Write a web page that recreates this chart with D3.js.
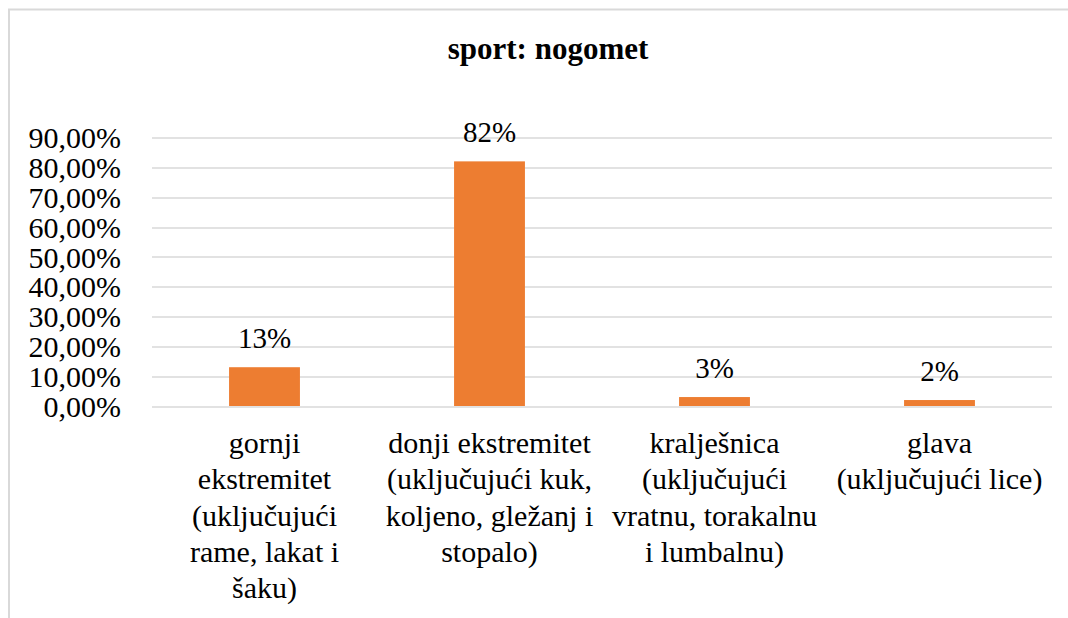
<!DOCTYPE html>
<html>
<head>
<meta charset="utf-8">
<script src="https://cdn.jsdelivr.net/npm/d3@7"></script>
</head>
<body style="margin:0;background:#fff">
<svg id="chart" width="1068" height="618" style="display:block"></svg>
<script>
// data
const categories = ['gornji', 'donji', 'kralje', 'glava']
const categoryLines = [
  ['gornji', 'ekstremitet', '(uključujući', 'rame, lakat i', 'šaku)'],
  ['donji ekstremitet', '(uključujući kuk,', 'koljeno, gležanj i', 'stopalo)'],
  ['kralješnica', '(uključujući', 'vratnu, torakalnu', 'i lumbalnu)'],
  ['glava', '(uključujući lice)']
]
const values = [0.13, 0.82, 0.03, 0.02]
const valueLabels = ['13%', '82%', '3%', '2%']
const yTicks = [0, 0.1, 0.2, 0.3, 0.4, 0.5, 0.6, 0.7, 0.8, 0.9]

const FONT = '"Liberation Serif", Tinos, "Times New Roman", FreeSerif, serif'
const W = 1068, H = 618
const margin = { top: 137.5, right: 16, bottom: 212, left: 152 }
const width = W - margin.left - margin.right
const height = H - margin.top - margin.bottom

const render = () => {
  const svg = d3.select('#chart')
  svg.selectAll('*').remove()

  // outer frame (runs off the right and bottom)
  svg.append('rect')
    .attr('x', 9).attr('y', 9.5)
    .attr('width', W + 20).attr('height', H + 20)
    .attr('fill', '#fff')
    .attr('stroke', '#d9d9d9')
    .attr('stroke-width', 2)

  svg.append('text')
    .attr('x', 548)
    .attr('y', 59)
    .attr('text-anchor', 'middle')
    .style('font-family', FONT)
    .style('font-size', '31px')
    .style('font-weight', 'bold')
    .text('sport: nogomet')

  const g = svg.append('g')
    .attr('transform', `translate(${margin.left},${margin.top})`)

  const x = d3.scaleBand()
    .domain(categories)
    .range([0, width])
    .paddingInner(0.685)
    .paddingOuter(0.3425)

  const y = d3.scaleLinear()
    .domain([0, 0.9])
    .range([height, 0])

  // gridlines
  g.append('g')
    .selectAll('line')
    .data(yTicks)
    .enter()
    .append('line')
    .attr('x1', 0)
    .attr('x2', width)
    .attr('y1', d => Math.round(y(d)) + 0.5)
    .attr('y2', d => Math.round(y(d)) + 0.5)
    .attr('stroke', '#d9d9d9')
    .attr('stroke-width', 1.5)

  const yAxis = d3.axisLeft(y)
    .tickValues(yTicks)
    .tickSize(0)
    .tickPadding(31)
    .tickFormat(d => (d * 100).toFixed(2).replace('.', ',') + '%')

  const yAxisGroup = g.append('g').call(yAxis)
  yAxisGroup.select('.domain').remove()
  yAxisGroup.selectAll('text')
    .style('font-family', FONT)
    .style('font-size', '30px')
    .attr('fill', '#000')
    .attr('dy', '0.34em')

  g.selectAll('rect.bar')
    .data(values)
    .enter()
    .append('rect')
    .attr('class', 'bar')
    .attr('x', (d, i) => x(categories[i]))
    .attr('y', d => y(d))
    .attr('width', x.bandwidth())
    .attr('height', d => height - y(d))
    .attr('fill', '#ed7d31')

  g.selectAll('text.val')
    .data(values)
    .enter()
    .append('text')
    .attr('class', 'val')
    .attr('x', (d, i) => x(categories[i]) + x.bandwidth() / 2)
    .attr('y', d => y(d) - 19)
    .attr('text-anchor', 'middle')
    .style('font-family', FONT)
    .style('font-size', '29px')
    .text((d, i) => valueLabels[i])

  // category labels
  const xAxis = d3.axisBottom(x).tickSize(0).tickFormat('')
  const xAxisGroup = g.append('g')
    .attr('transform', `translate(0,${height})`)
    .call(xAxis)
  xAxisGroup.select('.domain').remove()

  const catText = g.selectAll('text.cat')
    .data(categories)
    .enter()
    .append('text')
    .attr('class', 'cat')
    .attr('text-anchor', 'middle')
    .attr('transform', d => `translate(${x(d) + x.bandwidth() / 2},${height + 47})`)
    .style('font-family', FONT)
    .style('font-size', '30px')

  catText.selectAll('tspan')
    .data((d, i) => categoryLines[i])
    .enter()
    .append('tspan')
    .attr('x', 0)
    .attr('y', (d, j) => j * 36.3)
    .text(d => d)
}

render()
// redraw once the serif face is resolved
if (document.fonts && document.fonts.load) {
  Promise.all([
    document.fonts.load('30px "Liberation Serif"'),
    document.fonts.load('bold 31px "Liberation Serif"')
  ]).then(() => requestAnimationFrame(render)).catch(() => {})
}
</script>
</body>
</html>
